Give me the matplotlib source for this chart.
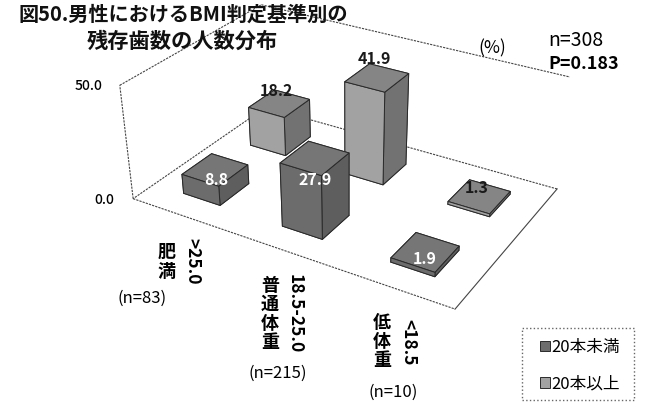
import numpy as np
import matplotlib
matplotlib.use("Agg")
import matplotlib.pyplot as plt
from matplotlib.patches import Patch, Rectangle
from mpl_toolkits.mplot3d import proj3d

plt.rcParams['font.family'] = ['Noto Sans CJK JP', 'DejaVu Sans']

# -------------------- data --------------------
ranges = ['>25.0', '18.5-25.0', '<18.5']
groups = ['肥\n満', '普\n通\n体\n重', '低\n体\n重']
counts = ['(n=83)', '(n=215)', '(n=10)']
under_20 = [8.8, 27.9, 1.9]
over_20 = [18.2, 41.9, 1.3]
series_names = ['20本未満', '20本以上']
z_ticks = ['50.0', '0.0']

W, H = 665, 411
fig = plt.figure(figsize=(W / 100, H / 100), dpi=100, facecolor='white')

# 3D axes must be square, so let it hang over the top and bottom of the figure
pad = (W - H) / 2
ax = fig.add_axes([0, -pad / H, 1, W / H], projection='3d', computed_zorder=False)
ax.set_axis_off()
ax.patch.set_alpha(0)
ax.set_proj_type('ortho')  # stops Line3D clipping, the matrix below is used anyway

# -------------------- camera fitted to the frame corners --------------------
world = [(0, 0, 0), (3, 0, 0), (3, 2, 0), (0, 2, 0), (0, 0, 50), (0, 2, 50), (3, 2, 50)]
pixels = [(133, 199), (455, 309), (557, 189), (266, 107), (120, 85), (261, 5), (570, 77)]

A, b = [], []
for (x, y, z), (u, v) in zip(world, pixels):
    A.append([x, y, z, 1, 0, 0, 0, 0, -u * x, -u * y, -u * z])
    A.append([0, 0, 0, 0, x, y, z, 1, -v * x, -v * y, -v * z])
    b += [u, v]
p = np.linalg.lstsq(np.array(A, float), np.array(b, float), rcond=None)[0]
P = np.append(p, 1).reshape(3, 4)

xl, xh = ax.viewLim.intervalx
yl, yh = ax.viewLim.intervaly
T = np.array([[(xh - xl) / W, 0, xl],
              [0, -(yh - yl) / W, yl + (H + pad) / W * (yh - yl)],
              [0, 0, 1]])
Q = T @ P
M = np.array([Q[0], Q[1], [-0.5, 1, -0.02, 0], Q[2]])
ax.get_proj = lambda: M

# -------------------- frame --------------------
def frame_line(a, b, ls=(0, (2, 1))):
    ax.plot(*zip(a, b), color='#444444', lw=0.8, ls=ls, zorder=1)

frame_line((0, 0, 0), (3, 0, 0))
frame_line((3, 0, 0), (3, 2, 0), ls='-')
frame_line((3, 2, 0), (0, 2, 0))
frame_line((0, 2, 0), (0, 0, 0))
frame_line((0, 0, 0), (0, 0, 50))
frame_line((0, 0, 50), (0, 2, 50))
frame_line((0, 2, 50), (3, 2, 50))

# -------------------- bars --------------------
dark = ['#555555', '#767676', '#6c6c6c', '#6c6c6c', '#5e5e5e', '#5e5e5e']
light = ['#777777', '#858585', '#a2a2a2', '#a2a2a2', '#727272', '#727272']
bar_w, bar_d = 0.38, 0.42
order = 2

def bar(i, row, value, colors):
    global order
    ax.bar3d(i + 0.5 - bar_w / 2, row + 0.5 - bar_d / 2, 0, bar_w, bar_d, value,
             color=colors, edgecolor='#2a2a2a', linewidth=0.7, shade=False, zorder=order)
    order += 1

# back row first, then the front row on top of it
for i in range(3):
    bar(i, 1, over_20[i], light)
for i in range(3):
    bar(i, 0, under_20[i], dark)

def value_label(x, y, z, v, color):
    px, py, _ = proj3d.proj_transform(x, y, z, M)
    ax.text2D(px, py, f'{v}', transform=ax.transData, ha='center', va='center', fontsize=11.5,
              fontweight='bold', color=color, zorder=20, clip_on=False)

for i, v in enumerate(over_20):
    value_label(i + 0.47, 1.5, v * 1.1 + 3.5, v, '#1a1a1a')
for i, v in enumerate(under_20):
    value_label(i + 0.5, 0.5, v * 0.75 - 2.5, v, 'white')

# -------------------- text, placed in pixels from the top left --------------------
def px_text(x, y, s, **kw):
    kw.setdefault('ha', 'center')
    kw.setdefault('va', 'center')
    fig.text(x / W, 1 - y / H, s, **kw)

px_text(183, 14, '図50.男性におけるBMI判定基準別の', fontsize=14.5, fontweight='bold', color='#111111')
px_text(182, 41, '残存歯数の人数分布', fontsize=15.3, fontweight='bold', color='#111111')
px_text(89, 86, z_ticks[0], fontsize=10, fontweight='medium')
px_text(104, 200, z_ticks[1], fontsize=10, fontweight='medium')
px_text(492, 48, '(%)', fontsize=12.5)
px_text(548, 40, 'n=308', fontsize=14, ha='left')
px_text(548, 64, 'P=0.183', fontsize=12.9, ha='left', fontweight='bold')

range_xy = [(192, 261), (295, 314), (408, 342)]
group_xy = [(167, 262), (270, 314), (382, 341)]
count_xy = [(142, 298), (278, 373), (393, 392)]
for i in range(3):
    px_text(*range_xy[i], ranges[i], rotation=-90, fontsize=12.5, fontweight='bold')
    px_text(*group_xy[i], groups[i], fontsize=13, fontweight='bold', linespacing=1.0)
    px_text(*count_xy[i], counts[i], fontsize=12)

# -------------------- legend --------------------
fig.add_artist(Rectangle((522 / W, 1 - 400 / H), 112 / W, 72 / H, transform=fig.transFigure,
                         fill=False, edgecolor='#666666', lw=1.0, ls=':'))
handles = [Patch(facecolor='#6c6c6c', edgecolor='#2a2a2a', lw=0.7),
           Patch(facecolor='#a2a2a2', edgecolor='#2a2a2a', lw=0.7)]
fig.legend(handles, series_names, loc='upper left', bbox_to_anchor=(540 / W, 1 - 339 / H),
           borderaxespad=0, borderpad=0, fontsize=12, handlelength=0.6, handleheight=0.6,
           handletextpad=0.1, labelspacing=1.15, frameon=False)

fig.savefig('out.png', dpi=100)
